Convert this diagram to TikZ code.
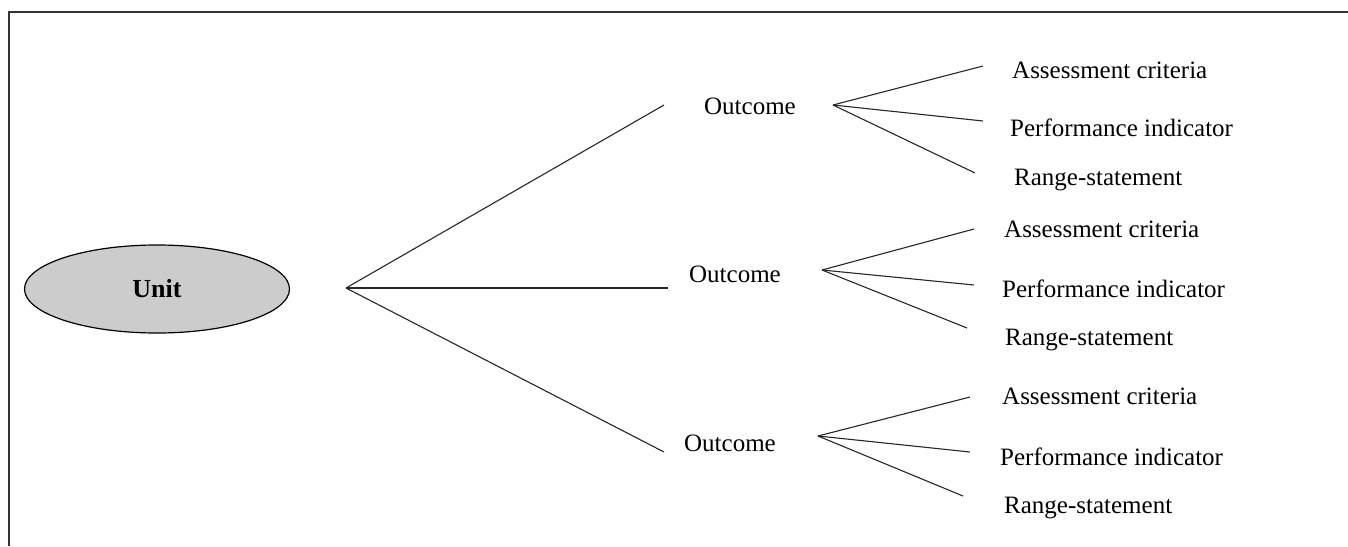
\documentclass[tikz,border=0pt]{standalone}
\usepackage{fontspec}
\setmainfont{Liberation Serif}
\usetikzlibrary{shapes.geometric}
\begin{document}
\begin{tikzpicture}[x=1pt,y=-1pt,
  lbl/.style={font=\fontsize{25}{29}\selectfont, inner sep=0pt, anchor=west},
  otc/.style={font=\fontsize{25}{29}\selectfont, inner sep=0pt},
  conn/.style={line width=1.1pt, black!85},
  frame/.style={line width=1.6pt, black!80}]
\useasboundingbox (0,0) rectangle (1348,546);
% frame
\draw[frame] (9,546) -- (9,12) -- (1348,12);
% unit
\node[draw, line width=1.2pt, ellipse, fill=black!20, minimum width=265pt, minimum height=88pt, inner sep=0pt,
      font=\fontsize{26}{30}\selectfont\bfseries] (unit) at (157,289) {Unit};
\coordinate (r0) at (346,288);
% outcomes
\node[otc] (o1) at (750,106) {Outcome};
\node[otc] (o2) at (735,274) {Outcome};
\node[otc] (o3) at (730,443) {Outcome};
\coordinate (e1) at (664,105);
\coordinate (e2) at (668,288);
\coordinate (e3) at (664,452);
\draw[conn] (r0) -- (e1);
\draw[conn] (r0) -- (e2);
\draw[conn] (r0) -- (e3);
% group 1
\coordinate (g1) at (833,105);
\coordinate (g1a) at (983,66);
\coordinate (g1b) at (983,121);
\coordinate (g1c) at (975,173);
\node[lbl] (a1) at (1012,70) {Assessment criteria};
\node[lbl] (p1) at (1010,128) {Performance indicator};
\node[lbl] (s1) at (1014,180) {Range-statement};
\draw[conn] (g1) -- (g1a);
\draw[conn] (g1) -- (g1b);
\draw[conn] (g1) -- (g1c);
% group 2
\coordinate (g2) at (822,270);
\coordinate (g2a) at (974,229);
\coordinate (g2b) at (974,285);
\coordinate (g2c) at (967,328);
\node[lbl] (a2) at (1004,229) {Assessment criteria};
\node[lbl] (p2) at (1002,289) {Performance indicator};
\node[lbl] (s2) at (1005,340) {Range-statement};
\draw[conn] (g2) -- (g2a);
\draw[conn] (g2) -- (g2b);
\draw[conn] (g2) -- (g2c);
% group 3
\coordinate (g3) at (818,436);
\coordinate (g3a) at (970,397);
\coordinate (g3b) at (970,452);
\coordinate (g3c) at (963,496);
\node[lbl] (a3) at (1002,396) {Assessment criteria};
\node[lbl] (p3) at (1000,457) {Performance indicator};
\node[lbl] (s3) at (1004,508) {Range-statement};
\draw[conn] (g3) -- (g3a);
\draw[conn] (g3) -- (g3b);
\draw[conn] (g3) -- (g3c);
\end{tikzpicture}
\end{document}
